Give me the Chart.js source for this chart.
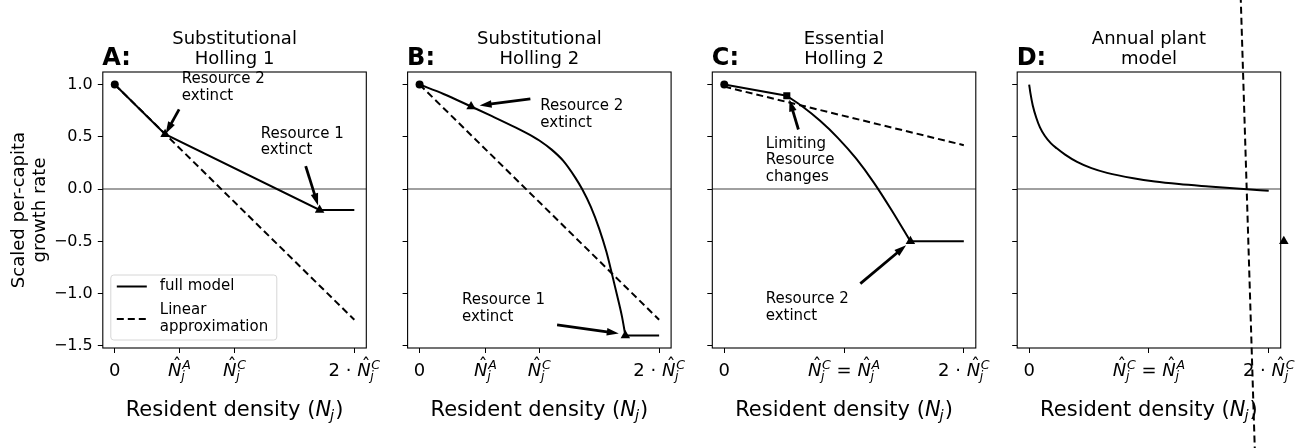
<!DOCTYPE html>
<html>
<head>
<meta charset="utf-8">
<script src="https://cdn.jsdelivr.net/npm/chart.js@4/dist/chart.umd.min.js"></script>
<style>
  html, body { margin: 0; padding: 0; background: #fff; }
  #wrap { position: relative; width: 1304px; height: 448px; overflow: hidden; }
  #wrap canvas { position: absolute; left: 0; top: 0; }
</style>
</head>
<body>
<div id="wrap">
  <canvas id="cA" width="1304" height="448"></canvas>
  <canvas id="cB" width="1304" height="448"></canvas>
  <canvas id="cC" width="1304" height="448"></canvas>
  <canvas id="cD" width="1304" height="448"></canvas>
</div>
<script>
/* ---- datos (x en unidades de N^C, N^C = 1) ---- */
const yTicks = [1, 0.5, 0, -0.5, -1, -1.5];
const xTicksA = [0, 0.54, 1, 2];
const xTicksB = [0, 0.55, 1, 2];
const xTicksCD = [0, 1, 2];
const xLabelsAB = ['0', 'N^A', 'N^C', '2 · N^C'];
const xLabelsCD = ['0', 'N^C = N^A', '2 · N^C'];
const panelLetters = ['A:', 'B:', 'C:', 'D:'];
const panelTitles = [['Substitutional', 'Holling 1'], ['Substitutional', 'Holling 2'],
                     ['Essential', 'Holling 2'], ['Annual plant', 'model']];
const legendLabels = [['full model'], ['Linear', 'approximation']];

// A: Substitutional Holling 1
const aFullX = [0, 0.42, 1.71, 2.0];
const aFullY = [1.0, 0.525, -0.2, -0.2];
const aLinX = [0, 2];
const aLinY = [1.0, -1.25];
const aTriX = [0.42, 1.71];
const aTriY = [0.525, -0.2];

// B: Substitutional Holling 2
const bFullX = [0, 0.2, 0.43, 0.6, 0.8, 0.95, 1.0, 1.1, 1.2, 1.3, 1.357, 1.43, 1.5, 1.56, 1.61, 1.65, 1.69, 1.718];
const bFullY = [1.0, 0.91, 0.79, 0.70, 0.59, 0.50, 0.465, 0.38, 0.27, 0.11, 0.0, -0.17, -0.38, -0.60, -0.83, -1.02, -1.22, -1.4];
const bFlatX = [1.718, 2.0];
const bFlatY = [-1.4, -1.4];
const bLinX = [0, 2];
const bLinY = [1.0, -1.25];
const bTriX = [0.43, 1.718];
const bTriY = [0.79, -1.4];

// C: Essential Holling 2
const cStartX = [0, 0.522];
const cStartY = [1.0, 0.892];
const cCurveX = [0.522, 0.65, 0.8, 0.95, 1.1, 1.25, 1.4, 1.554];
const cCurveY = [0.892, 0.792, 0.653, 0.488, 0.293, 0.06, -0.207, -0.5];
const cFlatX = [1.554, 2.0];
const cFlatY = [-0.5, -0.5];
const cLinX = [0, 2];
const cLinY = [0.98, 0.42];
const cSqX = [0.522];
const cSqY = [0.892];
const cTriX = [1.554];
const cTriY = [-0.5];

// D: Annual plant model
const dFullX = [0, 0.01, 0.03, 0.06, 0.09, 0.13, 0.18, 0.23, 0.3, 0.4, 0.52, 0.65, 0.87, 1.05, 1.25, 1.5, 1.79, 2.0];
const dFullY = [1.0, 0.92, 0.80, 0.68, 0.59, 0.51, 0.44, 0.39, 0.33, 0.26, 0.20, 0.155, 0.103, 0.072, 0.048, 0.025, 0.0, -0.017];
const dLinX = [1.76, 1.89];
const dLinY = [2.06, -2.72];
const dTriX = [2.126];
const dTriY = [-0.5];

// anotaciones: texto (izq/baseline 1a línea), cola y punta de flecha, en coords de datos
const annA = [
  { lines: ['Resource 2', 'extinct'], text: [0.559, 1.016], tail: [0.537, 0.762], head: [0.425, 0.53] },
  { lines: ['Resource 1', 'extinct'], text: [1.219, 0.491], tail: [1.594, 0.22], head: [1.697, -0.156] },
];
const annB = [
  { lines: ['Resource 2', 'extinct'], text: [1.008, 0.752], tail: [0.925, 0.863], head: [0.501, 0.80] },
  { lines: ['Resource 1', 'extinct'], text: [0.354, -1.10], tail: [1.148, -1.299], head: [1.663, -1.381] },
];
const annC = [
  { lines: ['Limiting', 'Resource', 'changes'], text: [0.346, 0.395], tail: [0.619, 0.57], head: [0.544, 0.857] },
  { lines: ['Resource 2', 'extinct'], text: [0.346, -1.093], tail: [1.136, -0.904], head: [1.518, -0.538] },
];

/* ---- helpers ---- */
const FONT = "'DejaVu Sans', sans-serif";
const pts = (xs, ys) => xs.map((x, i) => ({ x, y: ys[i] }));
const solid = (xs, ys, extra) => ({ data: pts(xs, ys), showLine: true, pointRadius: 0, borderColor: '#000',
  borderWidth: 2, fill: false, order: 3, ...extra });
const dashed = (xs, ys, extra) => solid(xs, ys, { borderDash: [7, 4], order: 5, ...extra });
const marks = (xs, ys, style, r, extra) => ({ data: pts(xs, ys), showLine: false, pointStyle: style, pointRadius: r,
  backgroundColor: '#000', borderColor: '#000', borderWidth: 0, order: 1, ...extra });
const zeroLine = () => ({ data: pts([-0.1, 2.1], [0, 0]), showLine: true, pointRadius: 0, borderColor: '#a0a0a0',
  borderWidth: 2, order: 10 });

function mathParts(s) {
  const out = []; const re = /N\^([A-Z])/g; let last = 0, m;
  while ((m = re.exec(s))) {
    if (m.index > last) out.push({ t: 'txt', s: s.slice(last, m.index) });
    out.push({ t: 'N', sup: m[1] }); last = re.lastIndex;
  }
  if (last < s.length) out.push({ t: 'txt', s: s.slice(last) });
  return out;
}
// dibuja N̂_j^X (estilo mathtext) centrado en cx
function drawMath(ctx, s, cx, base, size) {
  const parts = mathParts(s), ss = size * 0.7;
  let w = 0;
  parts.forEach(p => {
    if (p.t === 'txt') { ctx.font = `${size}px ${FONT}`; p.w = ctx.measureText(p.s).width; }
    else {
      ctx.font = `italic ${size}px ${FONT}`; p.wn = ctx.measureText('N').width;
      ctx.font = `italic ${ss}px ${FONT}`;
      p.w = p.wn + Math.max(ctx.measureText(p.sup).width, ctx.measureText('j').width) + size * 0.04;
    }
    w += p.w;
  });
  let x = cx - w / 2;
  ctx.textBaseline = 'alphabetic'; ctx.fillStyle = '#000';
  parts.forEach(p => {
    ctx.textAlign = 'left';
    if (p.t === 'txt') { ctx.font = `${size}px ${FONT}`; ctx.fillText(p.s, x, base); }
    else {
      ctx.font = `italic ${size}px ${FONT}`; ctx.fillText('N', x, base);
      ctx.font = `${size}px ${FONT}`; ctx.textAlign = 'center';
      ctx.fillText('\u02C6', x + p.wn * 0.6 + size * 0.05, base - size * 0.3);
      ctx.textAlign = 'left'; ctx.font = `italic ${ss}px ${FONT}`;
      ctx.fillText(p.sup, x + p.wn + size * 0.04, base - size * 0.38);
      ctx.fillText('j', x + p.wn - size * 0.02, base + size * 0.2);
    }
    x += p.w;
  });
}

function arrow(ctx, x1, y1, x2, y2) {
  const dx = x2 - x1, dy = y2 - y1, L = Math.hypot(dx, dy), ux = dx / L, uy = dy / L;
  const hl = 12, hw = 3.8, bx = x2 - ux * hl, by = y2 - uy * hl;
  ctx.strokeStyle = '#000'; ctx.fillStyle = '#000'; ctx.lineWidth = 2.8; ctx.setLineDash([]);
  ctx.beginPath(); ctx.moveTo(x1, y1); ctx.lineTo(bx + ux * 2, by + uy * 2); ctx.stroke();
  ctx.beginPath(); ctx.moveTo(x2, y2); ctx.lineTo(bx - uy * hw, by + ux * hw);
  ctx.lineTo(bx + uy * hw, by - ux * hw); ctx.closePath(); ctx.fill();
}

function drawDeco(chart, p) {
  const { ctx, chartArea: a } = chart, sx = chart.scales.x, sy = chart.scales.y;
  const cx = (a.left + a.right) / 2;
  ctx.save();
  // marco
  ctx.strokeStyle = '#000'; ctx.lineWidth = 1.1; ctx.setLineDash([]);
  ctx.strokeRect(a.left, a.top, a.right - a.left, a.bottom - a.top);
  ctx.fillStyle = '#000'; ctx.textBaseline = 'alphabetic';
  // letra del panel
  ctx.font = `bold 24px ${FONT}`; ctx.textAlign = 'left';
  ctx.fillText(p.letter, a.left - 0.5, 65);
  // título
  ctx.font = `18px ${FONT}`; ctx.textAlign = 'center';
  p.title.forEach((t, i) => ctx.fillText(t, cx, 43.5 + i * 20.3));
  // etiquetas eje x
  p.xTicks.forEach((v, i) => drawMath(ctx, p.xLabels[i], sx.getPixelForValue(v), 376, 18));
  // título eje x: Resident density (N_j)
  {
    const size = 21, pre = 'Resident density (', post = ')';
    ctx.font = `${size}px ${FONT}`; const w1 = ctx.measureText(pre).width, w3 = ctx.measureText(post).width;
    ctx.font = `italic ${size}px ${FONT}`; const wn = ctx.measureText('N').width;
    ctx.font = `italic ${size * 0.7}px ${FONT}`; const wj = ctx.measureText('j').width;
    let x = cx - (w1 + wn + wj + w3) / 2, b = 416;
    ctx.textAlign = 'left';
    ctx.font = `${size}px ${FONT}`; ctx.fillText(pre, x, b); x += w1;
    ctx.font = `italic ${size}px ${FONT}`; ctx.fillText('N', x, b); x += wn;
    ctx.font = `italic ${size * 0.7}px ${FONT}`; ctx.fillText('j', x - 1, b + 4); x += wj;
    ctx.font = `${size}px ${FONT}`; ctx.fillText(post, x, b);
  }
  // anotaciones
  (p.ann || []).forEach(an => {
    ctx.font = `15px ${FONT}`; ctx.textAlign = 'left'; ctx.fillStyle = '#000';
    const tx = sx.getPixelForValue(an.text[0]), ty = sy.getPixelForValue(an.text[1]);
    an.lines.forEach((l, i) => ctx.fillText(l, tx, ty + i * 16.7));
    arrow(ctx, sx.getPixelForValue(an.tail[0]), sy.getPixelForValue(an.tail[1]),
               sx.getPixelForValue(an.head[0]), sy.getPixelForValue(an.head[1]));
  });
  // leyenda (solo A)
  if (p.legend) {
    const L = a.left + 8, T = 275, W = 166, H = 65;
    ctx.beginPath(); ctx.roundRect(L, T, W, H, 3);
    ctx.fillStyle = 'rgba(255,255,255,0.8)'; ctx.fill();
    ctx.strokeStyle = '#d6d6d6'; ctx.lineWidth = 1; ctx.stroke();
    ctx.strokeStyle = '#000'; ctx.lineWidth = 2;
    ctx.setLineDash([]); ctx.beginPath(); ctx.moveTo(L + 6, 286.5); ctx.lineTo(L + 36, 286.5); ctx.stroke();
    ctx.setLineDash([7, 4]); ctx.beginPath(); ctx.moveTo(L + 6, 319); ctx.lineTo(L + 36, 319); ctx.stroke();
    ctx.setLineDash([]);
    ctx.fillStyle = '#000'; ctx.font = `15px ${FONT}`; ctx.textAlign = 'left'; ctx.textBaseline = 'middle';
    ctx.fillText(legendLabels[0][0], L + 49, 286);
    legendLabels[1].forEach((t, i) => ctx.fillText(t, L + 49, 310 + i * 17));
  }
  // título eje y (solo A)
  if (p.ylabel) {
    ctx.font = `18px ${FONT}`; ctx.textAlign = 'center'; ctx.textBaseline = 'middle';
    ['Scaled per-capita', 'growth rate'].forEach((t, i) => {
      ctx.save(); ctx.translate(19 + i * 21.5, (a.top + a.bottom) / 2); ctx.rotate(-Math.PI / 2);
      ctx.fillText(t, 0, 0); ctx.restore();
    });
  }
  ctx.restore();
}

const PLOT_W = 263.5, YW = 60, XH = 100;

function makePanel(id, idx, datasets, p) {
  const left = [102.8, 407.6, 712.3, 1017.2][idx];
  return new Chart(document.getElementById(id), {
    type: 'scatter',
    data: { datasets },
    options: {
      responsive: false, animation: false, events: [],
      layout: { autoPadding: false, padding: { left: left - YW, right: 1304 - left - PLOT_W, top: 72, bottom: 0 } },
      plugins: { legend: { display: false }, tooltip: { enabled: false } },
      elements: { line: { tension: 0 } },
      scales: {
        x: {
          type: 'linear', min: -0.1, max: 2.1,
          afterBuildTicks: s => { s.ticks = p.xTicks.map(v => ({ value: v })); },
          afterFit: s => { s.height = XH; },
          ticks: { display: false },
          border: { display: false },
          grid: { display: true, drawOnChartArea: false, drawTicks: true, tickLength: 5, color: '#000', lineWidth: 1 },
        },
        y: {
          type: 'linear', min: -1.52, max: 1.12,
          afterBuildTicks: s => { s.ticks = yTicks.map(v => ({ value: v })); },
          afterFit: s => { s.width = YW; },
          ticks: {
            display: idx === 0, padding: 5, color: '#000', font: { family: 'DejaVu Sans', size: 16 },
            callback: v => (v < 0 ? '\u2212' : '') + Math.abs(v).toFixed(1),
          },
          border: { display: false },
          grid: { display: true, drawOnChartArea: false, drawTicks: true, tickLength: 5, color: '#000', lineWidth: 1 },
        },
      },
    },
    plugins: [{ id: 'deco', afterDraw: c => drawDeco(c, p) }],
  });
}

makePanel('cA', 0, [
  zeroLine(),
  dashed(aLinX, aLinY),
  solid(aFullX, aFullY),
  marks([0], [1], 'circle', 4),
  marks(aTriX, aTriY, 'triangle', 5.5),
], { letter: panelLetters[0], title: panelTitles[0], xTicks: xTicksA, xLabels: xLabelsAB, ann: annA, legend: true, ylabel: true });

makePanel('cB', 1, [
  zeroLine(),
  dashed(bLinX, bLinY),
  solid(bFullX, bFullY, { cubicInterpolationMode: 'monotone' }),
  solid(bFlatX, bFlatY),
  marks([0], [1], 'circle', 4),
  marks(bTriX, bTriY, 'triangle', 5.5),
], { letter: panelLetters[1], title: panelTitles[1], xTicks: xTicksB, xLabels: xLabelsAB, ann: annB });

makePanel('cC', 2, [
  zeroLine(),
  dashed(cLinX, cLinY),
  solid(cStartX, cStartY),
  solid(cCurveX, cCurveY, { cubicInterpolationMode: 'monotone' }),
  solid(cFlatX, cFlatY),
  marks([0], [1], 'circle', 4),
  marks(cSqX, cSqY, 'rect', 5),
  marks(cTriX, cTriY, 'triangle', 5.5),
], { letter: panelLetters[2], title: panelTitles[2], xTicks: xTicksCD, xLabels: xLabelsCD, ann: annC });

makePanel('cD', 3, [
  zeroLine(),
  dashed(dLinX, dLinY, { clip: false }),
  solid(dFullX, dFullY, { cubicInterpolationMode: 'monotone' }),
  marks(dTriX, dTriY, 'triangle', 5.5, { clip: false }),
], { letter: panelLetters[3], title: panelTitles[3], xTicks: xTicksCD, xLabels: xLabelsCD });
</script>
</body>
</html>
